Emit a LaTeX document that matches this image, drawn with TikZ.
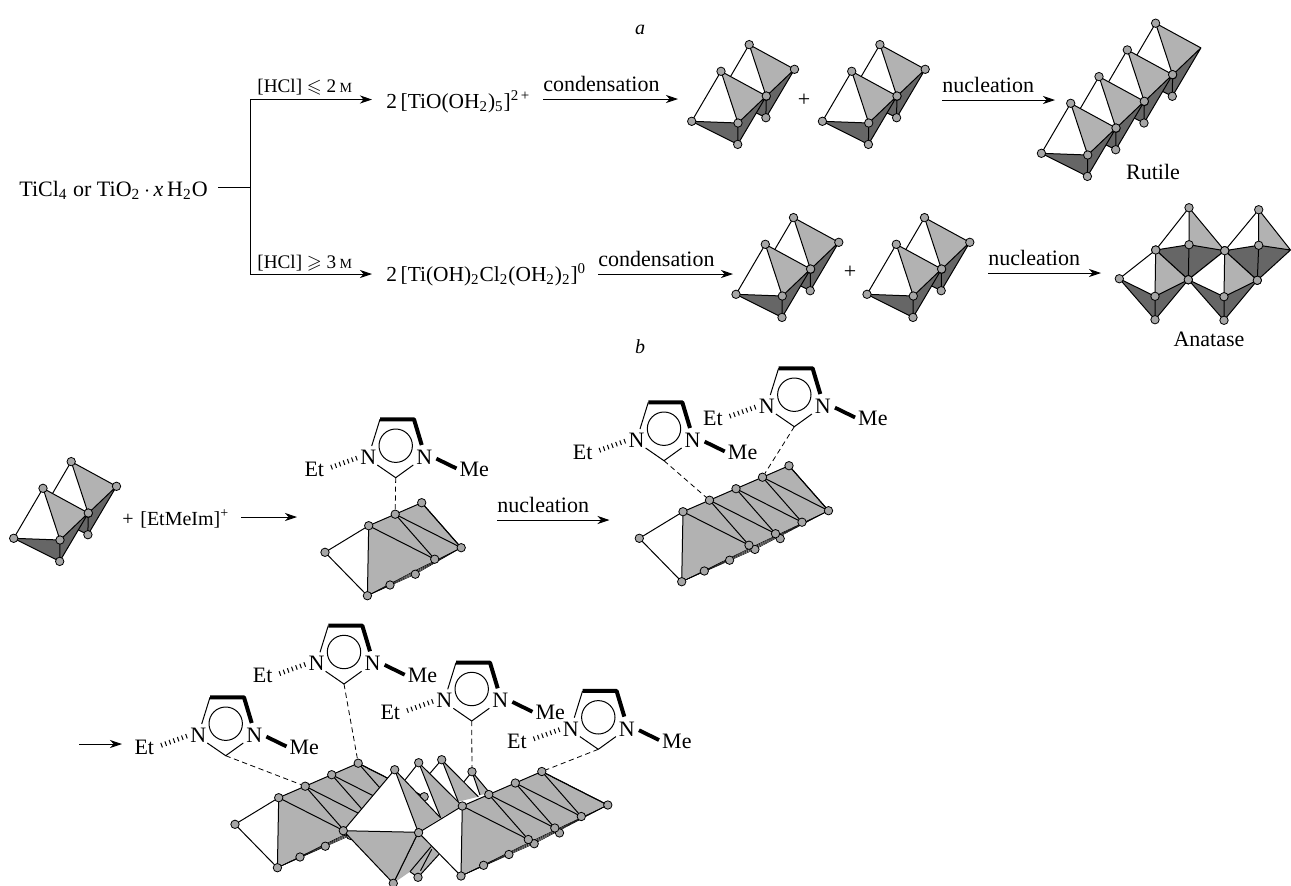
\documentclass[tikz,border=0pt]{standalone}
\usepackage{amssymb}
\usepackage{fontspec}
\setmainfont{Liberation Serif}
\usetikzlibrary{arrows.meta,calc}
\definecolor{lightface}{HTML}{B2B2B2}
\definecolor{darkface}{HTML}{666666}
\definecolor{atomgrey}{HTML}{A6A6A6}
\tikzset{
  chem/.style={font=\fontsize{11}{13}\selectfont, inner sep=0.5pt},
  small/.style={font=\fontsize{9.6}{11}\selectfont, inner sep=0pt},
  formula/.style={chem, font=\fontsize{10.7}{13}\selectfont, anchor=base west},
  flow/.style={-{Stealth[length=6pt,width=4pt,inset=1.8pt]}, line width=0.45pt},
  rule/.style={line width=0.45pt},
  lbl/.style={chem, anchor=south west, pos=0, inner xsep=0pt, inner ysep=3.4pt},
  edge/.style={line width=0.5pt, line join=round},
  atom/.style={circle, draw=black, fill=atomgrey, line width=0.4pt, inner sep=0pt, minimum size=4.2pt},
  ratom/.style={atom},
  hbond/.style={line width=0.4pt, dash pattern=on 2.6pt off 1.8pt},
  wedge/.style={line width=1.9pt},
  hash/.style={line width=2.4pt, dash pattern=on 0.5pt off 1.7pt},
}
% one octahedron: left, top, centre, right, bottom
\newcommand{\octa}[5]{
  \fill[white] (#1) -- (#2) -- (#3) -- cycle;
  \fill[lightface] (#2) -- (#3) -- (#4) -- cycle;
  \fill[darkface] (#1) -- (#3) -- (#5) -- cycle;
  \fill[darkface] (#3) -- (#4) -- (#5) -- cycle;
  \draw[edge] (#1) -- (#2) -- (#4) -- (#3) -- (#2) (#1) -- (#3) -- (#5) -- cycle (#5) -- (#4);
  \node[atom] (a#1) at (#1) {};
  \node[atom] (a#2) at (#2) {};
  \node[atom] (a#3) at (#3) {};
  \node[ratom] (a#4) at (#4) {};
  \node[atom] (a#5) at (#5) {};
}
\newcommand{\octaunit}[3]{
  \coordinate (#1L) at (#2-46.3,#3-1.7);
  \coordinate (#1T) at (#2-17,#3-51.7);
  \coordinate (#1G) at (#2,#3);
  \coordinate (#1R) at (#2+28.3,#3-27);
  \coordinate (#1B) at (#2-0.3,#3+21.4);
  \octa{#1L}{#1T}{#1G}{#1R}{#1B}
}
\newcommand{\dimer}[3]{
  \octaunit{#1b}{#2+28.2}{#3-26.7}
  \octaunit{#1f}{#2}{#3}
}
% flat plate seen edge on: name, x, y, last top atom, last rim atom
\newcommand{\plate}[5]{
\begin{scope}[shift={(#2,#3)}]
  \coordinate (#1a) at (-43.7,26.6);
  \coordinate (#1c) at (-1.3,70);
  \foreach \k in {0,...,#4} {\coordinate (#1t\k) at (26.5*\k,-11.5*\k);}
  \foreach \k in {0,...,#5} {\coordinate (#1g\k) at (66+26.5*\k,33.5-11.5*\k);}
  \fill[white] (#1a) -- (#1t0) -- (#1c) -- cycle;
  \draw[edge] (#1t0) -- (#1a) -- (#1c);
  \fill[lightface] (#1c) \foreach \k in {0,...,#4} {-- (#1t\k)} -- (#1g#5) -- cycle;
  \draw[edge] (#1c) -- (#1t0) \foreach \k in {1,...,#4} {-- (#1t\k)} -- (#1g#5);
  \foreach \k in {0,...,#5} {
    \draw[edge] (#1t\k) -- (#1g\k);
    \pgfmathtruncatemacro{\nx}{\k+1}
    \ifnum\k<#4 \draw[edge] (#1t\nx) -- (#1g\k); \fi
  }
  \foreach \d in {-0.6,0.6,1.8,3} {
    \draw[line width=0.25pt] (#1c) -- ($(#1c)!0.5!(#1g#5)+(0,\d)$) -- (#1g#5);
  }
  \node[atom] (#1A) at (#1a) {};
  \node[atom] (#1C) at (#1c) {};
  \foreach \k in {0,...,#5} {\node[atom] (#1H\k) at (21.3+25.3*\k,59.3-10.8*\k) {};}
  \foreach \k in {0,...,#4} {\node[atom] (#1T\k) at (#1t\k) {};}
  \foreach \k in {0,...,#5} {\node[atom] (#1G\k) at (#1g\k) {};}
\end{scope}
}
% imidazolium ring: name, x and y of the lower carbon
\newcommand{\imid}[3]{
\begin{scope}[shift={(#2,#3)}]
  \coordinate (#1c) at (0,0);
  \node[chem] (#1nl) at (-27.4,-20.4) {N};
  \node[chem] (#1nr) at (28.6,-20.4) {N};
  \node[chem] (#1et) at (-81.4,-8.4) {Et};
  \node[chem] (#1me) at (78.6,-8.4) {Me};
  \draw[edge] (-24,-31.7) -- (-15.7,-58.4);
  \draw[line width=2pt, line join=round] (-15.7,-58.4) -- (18.3,-58.4) -- (26,-32.7);
  \draw[edge] (-18.4,-12.7) -- (#1c) -- (17.6,-12.7);
  \draw[edge] (0,-32) circle[radius=16.7];
  \draw[wedge, shorten <=1.5pt, shorten >=1pt] (#1nr.east) -- (#1me.west);
  \draw[hash, shorten <=3pt, shorten >=1pt] (#1et.east) -- (#1nl.west);
\end{scope}
}
\begin{document}
\begin{tikzpicture}[x=0.5pt,y=-0.5pt]
\useasboundingbox (0,0) rectangle (1291,885);

% captions
\node[chem, font=\fontsize{10}{12}\selectfont\itshape] (capa) at (640,30) {a};
\node[chem, font=\fontsize{10}{12}\selectfont\itshape] (capb) at (640,347) {b};

% top scheme, text
\node[chem, anchor=base west] (ti) at (18,196) {TiCl\textsubscript{4} or TiO\textsubscript{2}$\,\cdot\,$\textit{x}\,H\textsubscript{2}O};
\node[formula] (fma) at (385,108) {2\,[TiO(OH\textsubscript{2})\textsubscript{5}]\textsuperscript{2\,+}};
\node[formula] (fmb) at (385,281) {2\,[Ti(OH)\textsubscript{2}Cl\textsubscript{2}(OH\textsubscript{2})\textsubscript{2}]\textsuperscript{0}};
\node[small, anchor=base west] (hcla) at (257,92) {[HCl] $\leqslant$ 2\,{\fontsize{7}{8}\selectfont M}};
\node[small, anchor=base west] (hclb) at (257,268) {[HCl] $\geqslant$ 3\,{\fontsize{7}{8}\selectfont M}};

\coordinate (ti0) at (218,187);
\coordinate (split) at (250,187);
\coordinate (up) at (250,99.5);
\coordinate (down) at (250,274);
\coordinate (upend) at (372,99.5);
\coordinate (downend) at (372,274);
\draw[rule] (ti0) -- (split);
\draw[rule] (up) -- (down);
\draw[flow] (up) -- (upend);
\draw[flow] (down) -- (downend);

% top scheme, arrows
\coordinate (ca0) at (543,99);
\coordinate (ca1) at (678,99);
\coordinate (cb0) at (598,274);
\coordinate (cb1) at (733,274);
\coordinate (na0) at (942,100);
\coordinate (na1) at (1055,100);
\coordinate (nb0) at (988,273);
\coordinate (nb1) at (1101,273);
\draw[flow] (ca0) -- node[lbl] (lca) {condensation} (ca1);
\draw[flow] (cb0) -- node[lbl] (lcb) {condensation} (cb1);
\draw[flow] (na0) -- node[lbl] (lna) {nucleation} (na1);
\draw[flow] (nb0) -- node[lbl] (lnb) {nucleation} (nb1);

% dimers
\dimer{da}{738}{123}
\node[chem] (plusa) at (804,100) {+};
\dimer{db}{868.7}{123}
\dimer{dc}{782.3}{296}
\node[chem] (plusb) at (850,272) {+};
\dimer{dd}{913.3}{296}
\dimer{de}{60}{540}

% rutile
\begin{scope}[ratom/.style={draw=none,fill=none}]
\octaunit{ru3}{1172.6}{74.9}
\end{scope}
\octaunit{ru2}{1144.3}{101.6}
\octaunit{ru1}{1116}{128.3}
\octaunit{ru0}{1087.7}{155}
\node[chem] (rutile) at (1153,172) {Rutile};

% anatase
\coordinate (A1) at (1189,207.7);
\coordinate (A2) at (1258.7,209.7);
\coordinate (B1) at (1155.7,250);
\coordinate (B2) at (1189,244.7);
\coordinate (B3) at (1224.7,250.7);
\coordinate (B4) at (1258.7,245.3);
\coordinate (B5) at (1290.5,250);
\coordinate (C0) at (1119.3,278.7);
\coordinate (C1) at (1188.3,279.7);
\coordinate (C2) at (1257.3,280.3);
\coordinate (D1) at (1155,296.3);
\coordinate (D2) at (1224,296.7);
\coordinate (E1) at (1155,319.7);
\coordinate (E2) at (1224,320.3);
\begin{scope}[ratom/.style={draw=none,fill=none}]
\octa{B3}{A2}{B4}{B5}{C2}
\end{scope}
\octa{B1}{A1}{B2}{B3}{C1}
\octa{C1}{B3}{D2}{C2}{E2}
\octa{C0}{B1}{D1}{C1}{E1}
\node[chem] (anatase) at (1209,339) {Anatase};

% lower scheme, first row
\node[chem, font=\fontsize{10}{12}\selectfont, anchor=base west] (plusim) at (121,525) {+\,\,[EtMeIm]\textsuperscript{+}};
\coordinate (ia0) at (241,517);
\coordinate (ia1) at (297,517);
\draw[flow] (ia0) -- (ia1);
\plate{pa}{368.7}{525.7}{2}{1}
\imid{ra}{395.7}{477.7}
\draw[hbond] (rac) -- (paT1);
\coordinate (nc0) at (497,520);
\coordinate (nc1) at (609.5,520);
\draw[flow] (nc0) -- node[lbl] (lnc) {nucleation} (nc1);
\plate{pb}{683}{511.7}{4}{3}
\imid{rb}{664}{460.7}
\imid{rc}{794.3}{426.7}
\draw[hbond] (rbc) -- (pbT1);
\draw[hbond] (rcc) -- (pbT3);

% lower scheme, second row: back of the centre block
\coordinate (ib0) at (79,744);
\coordinate (ib1) at (122,744);
\draw[flow] (ib0) -- (ib1);
\coordinate (P1) at (394.7,769.7);
\coordinate (P2) at (418.7,762.7);
\coordinate (P3) at (441.7,759.7);
\coordinate (P4) at (472,771.7);
\coordinate (n2) at (405,780);
\coordinate (n3) at (430,773.3);
\coordinate (n4) at (464,781.7);
\coordinate (m1) at (440.7,818);
\coordinate (m3) at (458.3,801.7);
\coordinate (m4) at (480,795);
\coordinate (r3) at (478.3,796.7);
\coordinate (r4) at (490,793.3);
\coordinate (Q1) at (343.3,830.7);
\coordinate (Q2) at (418.3,832.3);
\coordinate (S1) at (393.3,883.3);
\coordinate (S2) at (418,877.3);
\coordinate (u1) at (439.3,854);
\coordinate (u2) at (410,871.7);
\coordinate (bq) at (462.3,806);

\fill[lightface] (P4) -- (m4) -- (r4) -- cycle;
\draw[edge] (n4) -- (P4) -- (m4) (P4) -- (r4);
\node[atom] (aP4) at (P4) {};
\fill[white] (P3) -- (n3) -- (m3) -- cycle;
\fill[lightface] (P3) -- (m3) -- (r3) -- cycle;
\draw[edge] (n3) -- (P3) -- (m3) (P3) -- (r3);
\node[atom] (aP3) at (P3) {};
\fill[white] (P2) -- (n2) -- (m1) -- cycle;
\fill[lightface] (P2) -- (m1) -- (bq) -- cycle;
\draw[edge] (n2) -- (P2) -- (m1) (P2) -- (bq);
\node[atom] (aP2) at (P2) {};

% left plate, then front of the centre block
\plate{pc}{278.7}{797.7}{3}{3}
\fill[lightface] (Q2) -- (u1) -- (S2) -- (u2) -- (S1) -- cycle;
\draw[edge] (Q2) -- (S1) (u2) -- (S2) -- (u1);
\draw[edge] (u2) -- (431,846.7);
\draw[edge] (420.5,870.7) -- (431.7,849.3);
\node[atom] (aS2) at (S2) {};
\fill[lightface] (P1) -- (m1) -- (Q2) -- cycle;
\fill[white] (P1) -- (Q1) -- (Q2) -- cycle;
\fill[lightface] (Q1) -- (Q2) -- (S1) -- cycle;
\draw[edge] (Q1) -- (P1) -- (Q2) -- (Q1) -- (S1) -- (Q2);
\draw[edge] (P1) -- (m1);
\node[atom] (aP1) at (P1) {};
\node[atom] (aS1) at (S1) {};
\node[atom] (aQ1) at (Q1) {};

% right plate and its rings
\plate{pd}{462.3}{806}{3}{3}
\imid{rd}{225.7}{755.7}
\imid{re}{344}{684}
\imid{rf}{471.7}{721}
\imid{rg}{598.3}{749.3}
\draw[hbond] (rdc) -- (pcT1);
\draw[hbond] (rec) -- (pcT3);
\draw[hbond] (rfc) -- (aP4);
\draw[hbond] (rgc) -- (pdT3);

\end{tikzpicture}
\end{document}
